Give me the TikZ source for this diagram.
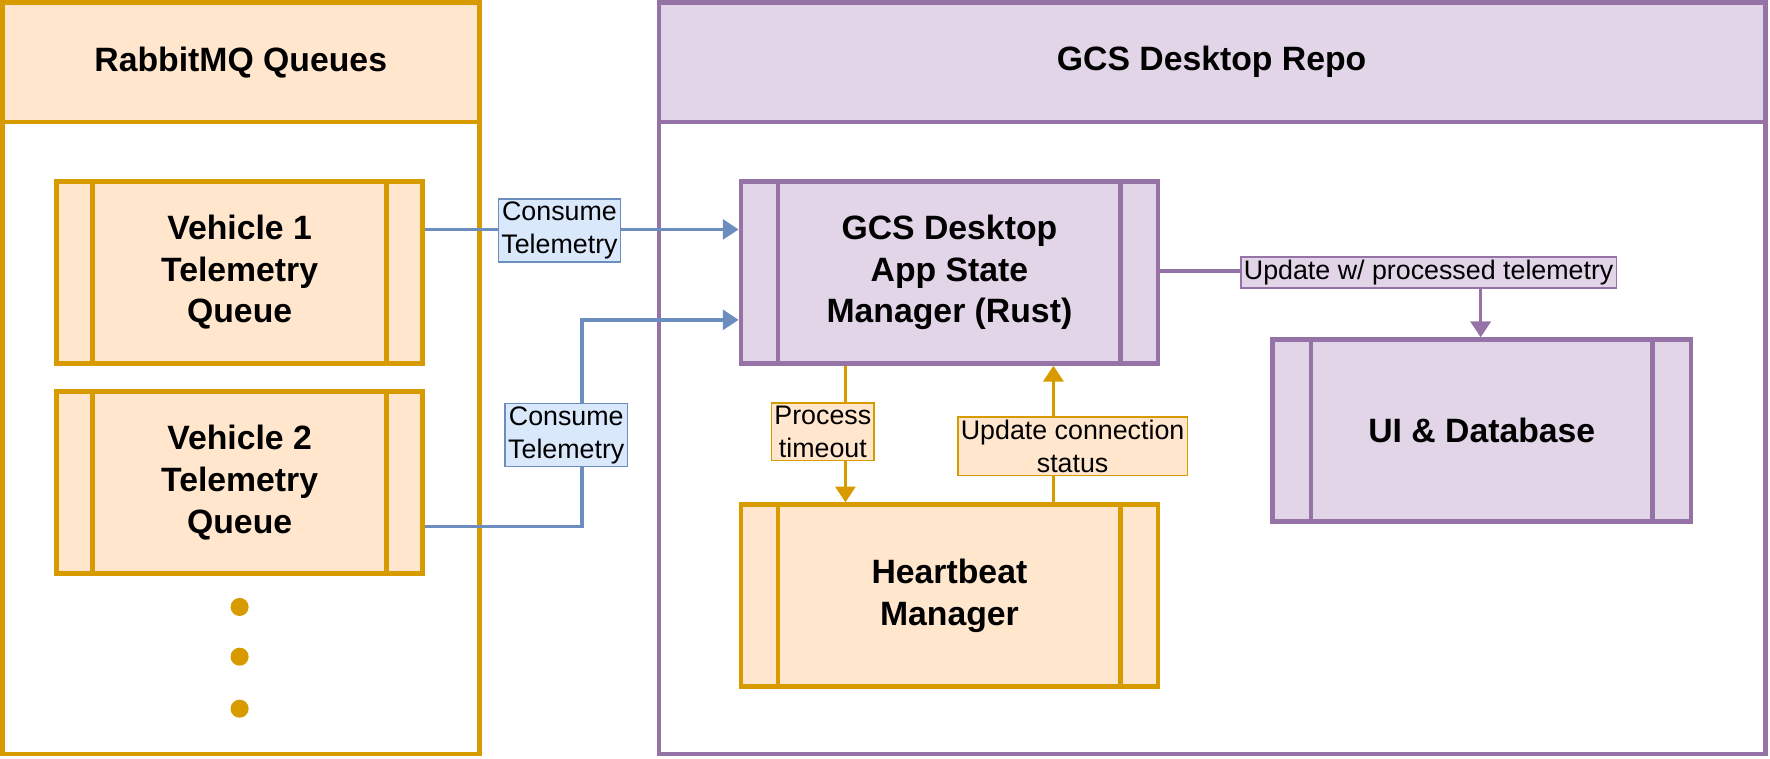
\documentclass[tikz,border=0pt]{standalone}
\usepackage{fontspec}
\setmainfont{Liberation Sans}
\usetikzlibrary{arrows.meta,positioning}
\definecolor{orfill}{HTML}{FFE6CC}
\definecolor{orline}{HTML}{D79B00}
\definecolor{pufill}{HTML}{E1D5E7}
\definecolor{puline}{HTML}{9673A6}
\definecolor{blfill}{HTML}{DAE8FC}
\definecolor{blline}{HTML}{6C8EBF}
\tikzset{
  box/.style={draw, line width=2.3pt, minimum width=6.48cm, minimum height=3.22cm,
    align=center, font=\fontsize{17}{21}\selectfont\bfseries},
  obox/.style={box, fill=orfill, draw=orline},
  pbox/.style={box, fill=pufill, draw=puline},
  lbl/.style={draw, line width=0.8pt, align=center, inner sep=1.5pt,
    font=\fontsize{13.5}{16.5}\selectfont},
  arr/.style={line width=1.8pt, -{Triangle[length=8pt,width=10pt]}}
}
\begin{document}
\begin{tikzpicture}[x=0.02cm,y=-0.02cm]
\useasboundingbox (0,0) rectangle (1566,671);
% containers
\draw[draw=orline, line width=2.3pt] (2,2) rectangle (424,667);
\draw[draw=orline, fill=orfill, line width=2.3pt] (2,2) rectangle (424,108);
\node[font=\fontsize{17}{21}\selectfont\bfseries] (qtitle) at (213,55) {RabbitMQ Queues};
\draw[draw=puline, line width=2.3pt] (583,2) rectangle (1562,667);
\draw[draw=puline, fill=pufill, line width=2.3pt] (583,2) rectangle (1562,108);
\node[font=\fontsize{17}{21}\selectfont\bfseries] (rtitle) at (1072,55) {GCS Desktop Repo};
% processes
\node[obox] (veh1) at (212,241) {Vehicle 1\\Telemetry\\Queue};
\node[obox] (veh2) at (212,427) {Vehicle 2\\Telemetry\\Queue};
\node[pbox, minimum width=7.38cm] (state) at (840,241) {GCS Desktop\\App State\\Manager (Rust)};
\node[obox, minimum width=7.38cm] (heart) at (840,527) {Heartbeat\\Manager};
\node[pbox, minimum width=7.4cm] (ui) at (1311,381) {UI \& Database};
\foreach \n/\c/\d in {veh1/orline/34, veh2/orline/34, state/puline/35, heart/orline/35, ui/puline/36} {
  \draw[line width=2.3pt, draw=\c] ([xshift=\d*0.02cm]\n.north west) -- ([xshift=\d*0.02cm]\n.south west);
  \draw[line width=2.3pt, draw=\c] ([xshift=-\d*0.02cm]\n.north east) -- ([xshift=-\d*0.02cm]\n.south east);
}
% dots
\foreach \y in {537,581,627}
  \fill[orline] (212,\y) circle (8);
% connectors
\coordinate (v2a) at (515,466);
\coordinate (v2b) at (515,283);
\coordinate (uia) at (1310,240);
\draw[arr, blline] (veh1.east |- 0,203) -- (state.west |- 0,203);
\draw[arr, blline] (veh2.east |- v2a) -- (v2a) -- (v2b) -- (state.west |- v2b);
\draw[arr, puline] (state.east |- uia) -- (uia) -- (ui.north -| uia);
\draw[arr, orline] (state.south -| 748,0) -- (heart.north -| 748,0);
\draw[arr, orline] (heart.north -| 932,0) -- (state.south -| 932,0);
% labels
\node[lbl, fill=blfill, draw=blline] (c1) at (495,204) {Consume\\Telemetry};
\node[lbl, fill=blfill, draw=blline] (c2) at (501,385) {Consume\\Telemetry};
\node[lbl, fill=pufill, draw=puline] (upd) at (1264,241) {Update w/ processed telemetry};
\node[lbl, fill=orfill, draw=orline] (tmo) at (728,382) {Process\\timeout};
\node[lbl, fill=orfill, draw=orline] (con) at (949,395) {Update connection\\status};
\end{tikzpicture}
\end{document}
